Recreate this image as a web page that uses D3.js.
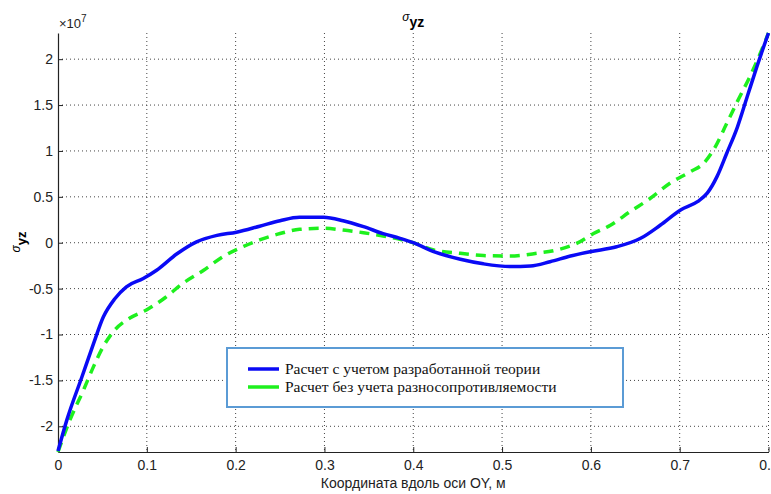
<!DOCTYPE html>
<html><head><meta charset="utf-8">
<script src="https://cdn.jsdelivr.net/npm/d3@7"></script>
<style>body{margin:0;background:#fff}svg{display:block}</style>
</head><body>
<svg id="c" width="771" height="494"></svg>
<script>
// Data (y values in units of 1e7)
const xBlue = [0,0.01,0.027,0.04,0.051,0.064,0.077,0.096,0.111,0.134,0.156,0.179,0.201,0.227,0.25,0.272,0.299,0.321,0.344,0.366,0.385,0.4,0.423,0.453,0.479,0.509,0.532,0.554,0.577,0.599,0.629,0.656,0.678,0.701,0.72,0.731,0.742,0.753,0.765,0.776,0.787,0.8];
const yBlue = [-2.27,-1.93,-1.46,-1.10,-0.81,-0.61,-0.48,-0.39,-0.30,-0.12,0.01,0.08,0.115,0.18,0.24,0.277,0.277,0.24,0.175,0.10,0.048,0.0,-0.098,-0.18,-0.23,-0.26,-0.254,-0.207,-0.145,-0.098,-0.044,0.048,0.19,0.357,0.447,0.54,0.72,0.975,1.26,1.59,1.92,2.285];
const xGreen = [0,0.0135,0.0285,0.04,0.051,0.064,0.081,0.1,0.119,0.141,0.164,0.186,0.209,0.227,0.25,0.272,0.299,0.321,0.344,0.366,0.4,0.423,0.453,0.479,0.509,0.539,0.561,0.584,0.603,0.622,0.644,0.667,0.689,0.712,0.727,0.738,0.753,0.765,0.78,0.791,0.8];
const yGreen = [-2.28,-1.93,-1.61,-1.35,-1.13,-0.95,-0.82,-0.73,-0.61,-0.44,-0.30,-0.15,-0.04,0.03,0.10,0.146,0.157,0.138,0.109,0.073,0.0,-0.08,-0.115,-0.14,-0.145,-0.115,-0.08,-0.007,0.10,0.19,0.338,0.484,0.648,0.774,0.866,1.01,1.30,1.54,1.83,2.07,2.285];
const xTicks = [0,0.1,0.2,0.3,0.4,0.5,0.6,0.7,0.8];
const xTickLabels = ["0","0.1","0.2","0.3","0.4","0.5","0.6","0.7","0.8"];
const yTicks = [-2,-1.5,-1,-0.5,0,0.5,1,1.5,2];
const yTickLabels = ["-2","-1.5","-1","-0.5","0","0.5","1","1.5","2"];
const seriesNames = ["Расчет с учетом разработанной теории","Расчет без учета разносопротивляемости"];

const svg = d3.select("#c");
const L = 58, R = 768.5, T = 33, B = 452;
const x = d3.scaleLinear().domain([0,0.8]).range([L,R]);
const y = d3.scaleLinear().domain([-2.28,2.285]).range([B,T]);
const font = "'Liberation Sans', Arial, Helvetica, sans-serif";

// grid
const g = svg.append("g");
g.selectAll(".gx").data(xTicks.slice(1)).enter().append("line")
  .attr("x1",d=>x(d)).attr("x2",d=>x(d)).attr("y1",T).attr("y2",B)
  .attr("stroke","#444").attr("stroke-width",1).attr("stroke-dasharray","1,3");
g.selectAll(".gy").data(yTicks).enter().append("line")
  .attr("y1",d=>y(d)).attr("y2",d=>y(d)).attr("x1",L).attr("x2",R)
  .attr("stroke","#444").attr("stroke-width",1).attr("stroke-dasharray","1,3");

// axes
const xAxis = d3.axisBottom(x).tickValues(xTicks).tickFormat((d,i)=>xTickLabels[i]).tickSizeInner(-5).tickSizeOuter(0).tickPadding(8);
const yAxis = d3.axisLeft(y).tickValues(yTicks).tickFormat((d,i)=>yTickLabels[i]).tickSizeInner(-5).tickSizeOuter(0).tickPadding(5);
const gx = svg.append("g").attr("transform",`translate(0,${B})`).call(xAxis);
const gy = svg.append("g").attr("transform",`translate(${L},0)`).call(yAxis);
[gx,gy].forEach(a=>{
  a.select(".domain").attr("stroke","#222").attr("stroke-width",1.2);
  a.selectAll(".tick line").attr("stroke","#222");
  a.selectAll("text").attr("font-family",font).attr("font-size",14).attr("fill","#222");
});

// lines
const line = d3.line().x(d=>x(d[0])).y(d=>y(d[1])).curve(d3.curveMonotoneX);
svg.append("path").datum(xGreen.map((v,i)=>[v,yGreen[i]]))
  .attr("d",line).attr("fill","none").attr("stroke","#1ef01e").attr("stroke-width",3.5).attr("stroke-dasharray","10,7");
svg.append("path").datum(xBlue.map((v,i)=>[v,yBlue[i]]))
  .attr("d",line).attr("fill","none").attr("stroke","#0a0af5").attr("stroke-width",3.5);

// exponent
const ex = svg.append("text").attr("x",L+1).attr("y",28).attr("font-family",font).attr("font-size",13).attr("fill","#222");
ex.append("tspan").text("×10");
ex.append("tspan").attr("dy",-6).attr("font-size",10).text("7");

// title
const ttl = svg.append("text").attr("x",(L+R)/2).attr("y",27).attr("text-anchor","middle").attr("font-family",font).attr("fill","#000");
ttl.append("tspan").attr("font-size",12).attr("font-style","italic").attr("dy",-6).text("σ");
ttl.append("tspan").attr("font-size",14).attr("font-weight","bold").attr("dy",6).text("yz");

// y label
const yl = svg.append("text").attr("transform","translate(26,242) rotate(-90)").attr("text-anchor","middle").attr("font-family",font).attr("fill","#000");
yl.append("tspan").attr("font-size",12).attr("font-style","italic").attr("dy",-6).text("σ");
yl.append("tspan").attr("font-size",13).attr("font-weight","bold").attr("dy",6).text("yz");

// x label
svg.append("text").attr("x",(L+R)/2).attr("y",488).attr("text-anchor","middle")
  .attr("font-family",font).attr("font-size",14).attr("fill","#222").text("Координата вдоль оси OY, м");

// legend
const lg = svg.append("g");
lg.append("rect").attr("x",227).attr("y",348).attr("width",396).attr("height",59)
  .attr("fill","#fff").attr("stroke","#5b9bd5").attr("stroke-width",2);
const colors = ["#0a0af5","#1ef01e"];
seriesNames.forEach((n,i)=>{
  const yy = 369 + i*18;
  lg.append("line").attr("x1",248).attr("x2",279).attr("y1",yy).attr("y2",yy).attr("stroke",colors[i]).attr("stroke-width",3.5);
  lg.append("text").attr("x",285).attr("y",yy+5).attr("font-family","'Liberation Serif','Times New Roman',serif")
    .attr("font-size",15.5).attr("fill","#111").text(n);
});
</script>
</body></html>
